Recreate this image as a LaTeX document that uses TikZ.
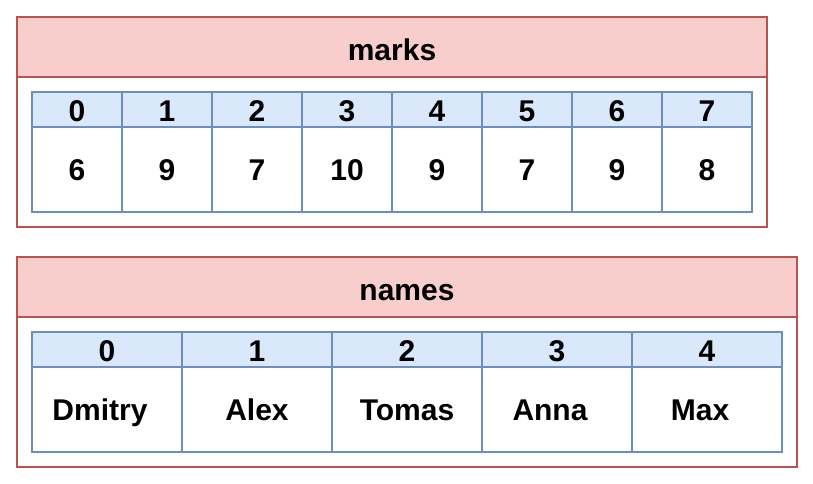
\documentclass[tikz,border=0pt]{standalone}
\usepackage{fontspec}
\setmainfont{Liberation Sans}
\definecolor{rb}{HTML}{B85450}\definecolor{rf}{HTML}{F8CECC}
\definecolor{bb}{HTML}{6C8EBF}\definecolor{bf}{HTML}{DAE8FC}
\begin{document}
\begin{tikzpicture}[x=1pt,y=-1pt,
 outer/.style={draw=rb,line width=2pt},
 hdr/.style={draw=rb,fill=rf,line width=2pt},
 ihdr/.style={draw=bb,fill=bf,line width=2pt},
 cell/.style={draw=bb,fill=white,line width=2pt},
 lbl/.style={font=\bfseries\fontsize{30}{36}\selectfont,inner sep=0pt,anchor=base}]
\useasboundingbox (0,0) rectangle (813,483);
% marks
\draw[outer,fill=white] (17,17) rectangle (767,227);
\draw[hdr] (17,17) rectangle (767,77);
\node[lbl] (mt) at (392,60) {marks};
\foreach \i/\v in {0/6,1/9,2/7,3/10,4/9,5/7,6/9,7/8}{
 \draw[ihdr] (32+90*\i,92) rectangle (122+90*\i,127);
 \draw[cell] (32+90*\i,127) rectangle (122+90*\i,212);
 \node[lbl] (mi\i) at (77+90*\i,121) {\i};
 \node[lbl] (mv\i) at (77+90*\i,180) {\v};
}
% names
\draw[outer,fill=white] (17,257) rectangle (797,467);
\draw[hdr] (17,257) rectangle (797,317);
\node[lbl] (nt) at (407,300) {names};
\foreach \i/\v/\c in {0/Dmitry/100,1/Alex/257,2/Tomas/407,3/Anna/550,4/Max/700}{
 \draw[ihdr] (32+150*\i,332) rectangle (182+150*\i,367);
 \draw[cell] (32+150*\i,367) rectangle (182+150*\i,452);
 \node[lbl] (ni\i) at (107+150*\i,361) {\i};
 \node[lbl] (nv\i) at (\c,420) {\v};
}
\end{tikzpicture}
\end{document}
